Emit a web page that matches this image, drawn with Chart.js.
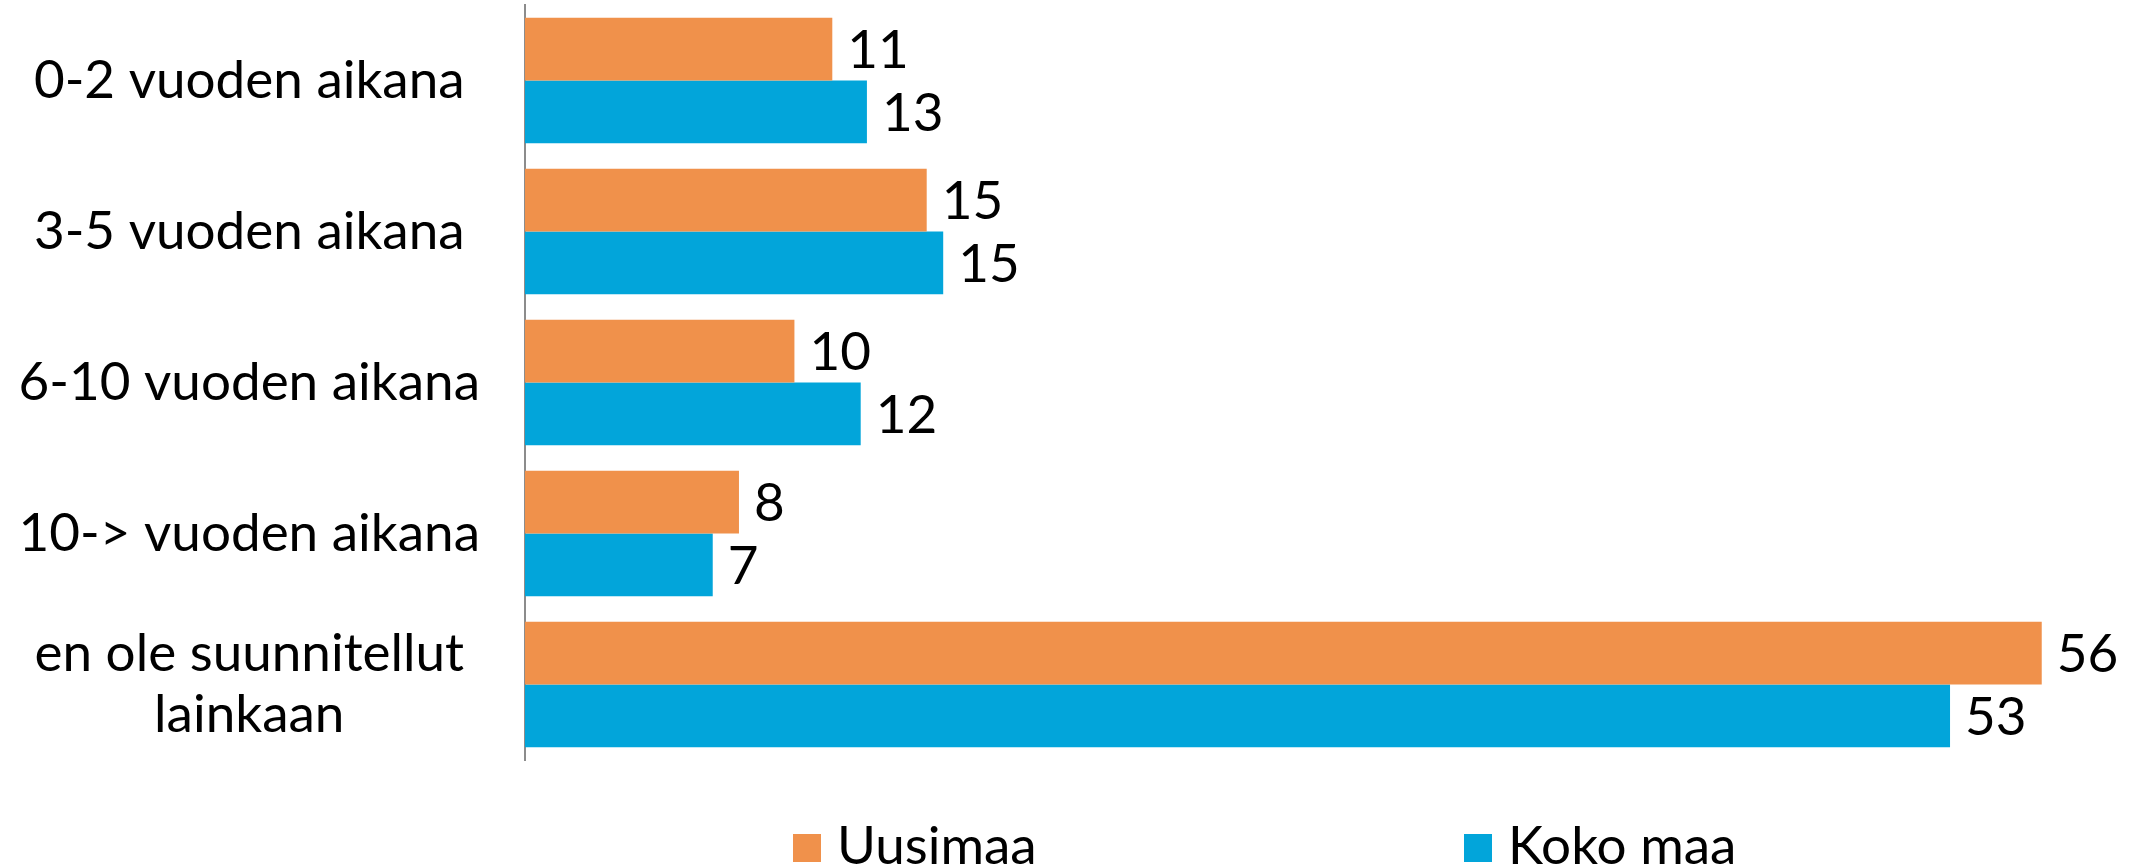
<!DOCTYPE html>
<html>
<head>
<meta charset="utf-8">
<script src="https://cdn.jsdelivr.net/npm/chart.js@4/dist/chart.umd.min.js"></script>
<style>
    html, body { margin: 0; padding: 0; background: #fff; }
    #wrap { width: 2136px; height: 868px; position: relative; }
</style>
</head>
<body>
<div id="wrap"><canvas id="chart"></canvas></div>
<script>
(function () {
    'use strict';

    // ── 資料 ──────────────────────────────────────────────────────────────
    var categories = [
        '0-2 vuoden aikana',
        '3-5 vuoden aikana',
        '6-10 vuoden aikana',
        '10-> vuoden aikana',
        ['en ole suunnitellut', 'lainkaan']
    ];
    var seriesNames = ['Uusimaa', 'Koko maa'];
    // bar lengths; labels show them rounded
    var uusimaa = [11.36, 14.85, 9.96, 7.91, 56.07];
    var kokoMaa = [12.64, 15.46, 12.41, 6.94, 52.68];

    var ORANGE = '#F0914B';
    var BLUE   = '#02A5DA';
    var FONT   = 'Lato, "Liberation Sans", sans-serif';
    var FONT_SIZE = 53;

    // ── 數值標籤 ──────────────────────────────────────────────────────────
    var valueLabels = {
        id: 'valueLabels',
        afterDatasetsDraw: function (chart) {
            var ctx = chart.ctx;
            ctx.save();
            ctx.font = FONT_SIZE + 'px ' + FONT;
            ctx.fillStyle = '#000';
            ctx.textAlign = 'left';
            ctx.textBaseline = 'alphabetic';
            chart.data.datasets.forEach(function (ds, i) {
                chart.getDatasetMeta(i).data.forEach(function (bar, j) {
                    var txt = String(Math.round(ds.data[j]));
                    ctx.fillText(txt, bar.x + 15, bar.y + FONT_SIZE * 0.36);
                });
            });
            ctx.restore();
        }
    };

    // ── 圖例（項目間距很寬，自己畫）────────────────────────────────────────
    var wideLegend = {
        id: 'wideLegend',
        afterDraw: function (chart) {
            var ctx = chart.ctx;
            var xs = [793, 1464];
            var box = 28;
            var baseY = 864;
            ctx.save();
            ctx.font = FONT_SIZE + 'px ' + FONT;
            ctx.textAlign = 'left';
            ctx.textBaseline = 'alphabetic';
            chart.data.datasets.forEach(function (ds, i) {
                ctx.fillStyle = ds.backgroundColor;
                ctx.fillRect(xs[i], 834, box, box);
                ctx.fillStyle = '#000';
                ctx.fillText(ds.label, xs[i] + box + 16, baseY);
            });
            ctx.restore();
        }
    };

    new Chart(document.getElementById('chart').getContext('2d'), {
        type: 'bar',
        data: {
            labels: categories,
            datasets: [
                { label: seriesNames[0], data: uusimaa, backgroundColor: ORANGE, borderWidth: 0 },
                { label: seriesNames[1], data: kokoMaa, backgroundColor: BLUE,   borderWidth: 0 }
            ]
        },
        options: {
            indexAxis: 'y',
            responsive: true,
            maintainAspectRatio: false,
            animation: false,
            layout: { padding: { top: 5, right: 15, bottom: 108, left: 0 } },
            datasets: {
                bar: { categoryPercentage: 0.83, barPercentage: 1.0 }
            },
            plugins: {
                legend: { display: false },
                tooltip: { enabled: false }
            },
            scales: {
                x: {
                    display: false,
                    min: 0,
                    max: 59
                },
                y: {
                    afterFit: function (scale) {
                        scale.width = 525;
                        scale.paddingTop = 0;
                        scale.paddingBottom = 0;
                    },
                    grid: { display: true, drawOnChartArea: false, drawTicks: false },
                    border: { display: true, color: '#8c8c8c', width: 2 },
                    ticks: {
                        color: '#000',
                        padding: 45,
                        crossAlign: 'center',
                        font: { family: FONT, size: FONT_SIZE, lineHeight: 1.14 }
                    }
                }
            }
        },
        plugins: [valueLabels, wideLegend]
    });
})();
</script>
</body>
</html>
